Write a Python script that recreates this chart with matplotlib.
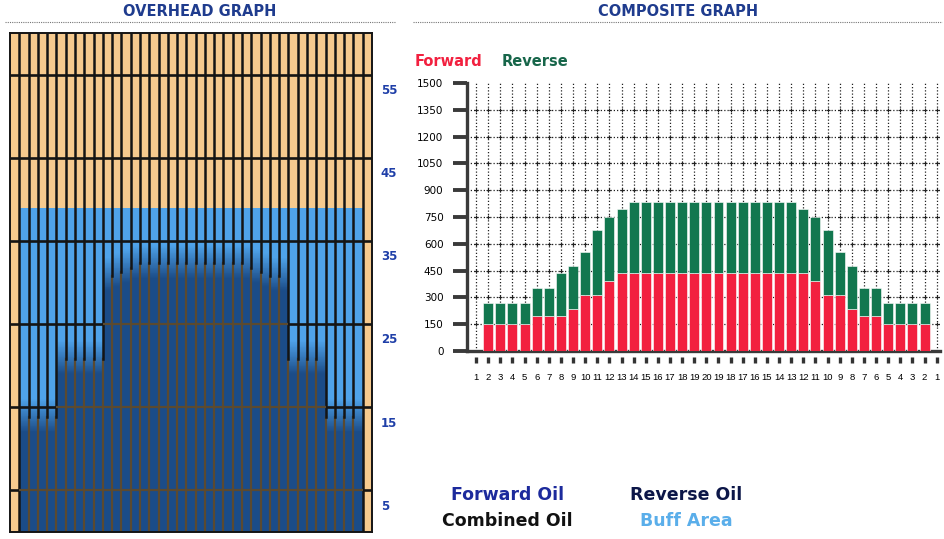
import numpy as np
import matplotlib.pyplot as plt
from matplotlib.colors import to_rgb
from matplotlib.lines import Line2D


# Composite graph (oil volume per board)
X_LABELS = ['1', '2', '3', '4', '5', '6', '7', '8', '9', '10', '11', '12', '13',
            '14', '15', '16', '17', '18', '19', '20', '19', '18', '17', '16', '15',
            '14', '13', '12', '11', '10', '9', '8', '7', '6', '5', '4', '3', '2', '1']
FORWARD = [150, 150, 150, 150, 195, 195, 195, 235, 315, 315, 390, 435,
           435, 435, 435, 435, 435, 435, 435, 435, 435, 435, 435, 435, 435, 435,
           435, 390, 315, 315, 235, 195, 195, 150, 150, 150, 150]
REVERSE = [120, 120, 120, 120, 160, 160, 240, 240, 240, 360, 360, 360,
           398, 398, 398, 398, 398, 398, 398, 398, 398, 398, 398, 398, 398, 398,
           360, 360, 360, 240, 240, 160, 160, 120, 120, 120, 120]
Y_TICKS = [0, 150, 300, 450, 600, 750, 900, 1050, 1200, 1350, 1500]

# Overhead graph (oil / buff length in feet per board, boards 1..39)
BOARD_OIL_FT = [0, 15, 15, 15, 15, 22, 22, 22, 22, 22,
                32, 32.5, 33, 33.5, 33.5, 33.5, 33.5, 33.5, 33.5, 33.5,
                33.5, 33.5, 33.5, 33.5, 33.5, 33.5, 33, 32.5, 32, 32,
                22, 22, 22, 22, 15, 15, 15, 15, 0]
BOARD_BUFF_FT = [0] + [39] * 37 + [0]
FEET_LINES = [5, 15, 25, 35, 45, 55]
FEET_LABELS = ['5', '15', '25', '35', '45', '55']

TAN = '#f6ca8e'
BUFF_BLUE = '#4fa3ea'
OIL_BLUE = '#1b4c88'
LINE_DARK = '#141414'
LINE_OIL = '#5b4a30'
RED = '#f2203f'
GREEN = '#12774f'
TITLE_BLUE = '#1f3c8e'

W, H = 945, 539


def fx(px):
    return px / W


def fy(py):
    return 1 - py / H


def overhead_image(oil, buff, top=60.0, rows=600):
    y = (np.arange(rows) + 0.5) * top / rows
    tan = np.array(to_rgb(TAN))
    light = np.array(to_rgb(BUFF_BLUE))
    dark = np.array(to_rgb(OIL_BLUE))
    img = np.zeros((rows, len(oil), 3))
    for k, (L, B) in enumerate(zip(oil, buff)):
        # soft fade from oil to buffed lane at the end of the pattern
        t = np.clip((L + 1.0 - y) / 4.0, 0, 1)[:, None]
        col = light[None, :] * (1 - t) + dark[None, :] * t
        col[y > B] = tan
        img[:, k] = col
    return img


def draw_overhead(fig):
    ax = fig.add_axes([fx(10), fy(532), fx(362), 499 / H])
    n = len(BOARD_OIL_FT)
    ax.imshow(overhead_image(BOARD_OIL_FT, BOARD_BUFF_FT), origin='lower',
              extent=(0, n, 0, 60), aspect='auto', interpolation='nearest')

    # board separators: brownish where both neighbours are oiled
    for j in range(1, n):
        wet = min(BOARD_OIL_FT[j - 1], BOARD_OIL_FT[j]) - 1.2
        if wet > 0:
            ax.plot([j, j], [0, wet], color=LINE_OIL, lw=1.6, zorder=2)
        ax.plot([j, j], [max(wet, 0), 60], color=LINE_DARK, lw=1.8, zorder=2)

    for f in FEET_LINES:
        for k in range(n):
            wet = BOARD_OIL_FT[k] - 1.2 > f
            ax.plot([k, k + 1], [f, f], color=LINE_OIL if wet else LINE_DARK,
                    lw=1.6 if wet else 1.9, zorder=3, solid_capstyle='butt')

    for f, lab in zip(FEET_LINES, FEET_LABELS):
        ax.text(n + 0.95, f - 1.9, lab, color='#1f3fa8', fontsize=8.5,
                fontweight='bold', ha='left', va='center', clip_on=False)

    ax.set_xlim(0, n)
    ax.set_ylim(0, 60)
    ax.set_xticks([])
    ax.set_yticks([])
    for s in ax.spines.values():
        s.set_color(LINE_DARK)
        s.set_linewidth(1.4)


def draw_composite(fig):
    ax = fig.add_axes([fx(467), fy(351), fx(473.3), 268 / H])
    pos = np.arange(1, len(FORWARD) + 1)
    n_ticks = len(X_LABELS)

    # dotted grid with little crosses where lines meet
    for y in Y_TICKS[1:-1]:
        ax.axhline(y, color='#222222', lw=0.9, ls=(0, (1, 1.6)), zorder=1)
    for x in range(n_ticks):
        ax.axvline(x, color='#222222', lw=0.9, ls=(0, (1, 1.6)), zorder=1)
    gx, gy = np.meshgrid(np.arange(n_ticks), Y_TICKS[1:-1])
    ax.scatter(gx.ravel(), gy.ravel(), marker='+', s=10, lw=0.8,
               color='#222222', zorder=1)

    ax.bar(pos, FORWARD, width=0.82, color=RED, edgecolor='white',
           linewidth=0.4, zorder=3)
    ax.bar(pos, REVERSE, width=0.82, bottom=FORWARD, color=GREEN,
           edgecolor='white', linewidth=0.4, zorder=3)

    ax.set_xlim(-0.75, 38.3)
    ax.set_ylim(0, 1500)
    ax.set_yticks(Y_TICKS)
    ax.set_yticklabels([str(v) for v in Y_TICKS])
    ax.set_xticks(range(n_ticks))
    ax.set_xticklabels(X_LABELS, family='Liberation Sans')
    ax.tick_params(axis='y', length=10, width=2.8, color='#3a3a3a',
                   labelsize=7.5, pad=7)
    ax.tick_params(axis='x', length=0, labelsize=6.8, pad=16)
    ax.plot(range(n_ticks), [-0.033] * n_ticks,
            transform=ax.get_xaxis_transform(), ls='none', marker='|',
            ms=5, mew=2.4, color='#333333', clip_on=False)

    for side in ['top', 'right']:
        ax.spines[side].set_visible(False)
    for side in ['left', 'bottom']:
        ax.spines[side].set_color('#3a3a3a')
        ax.spines[side].set_linewidth(2.4)
    ax.patch.set_alpha(0)


def main():
    fig = plt.figure(figsize=(W / 100, H / 100), dpi=100)

    draw_overhead(fig)
    draw_composite(fig)

    fig.text(fx(200), fy(12), 'OVERHEAD GRAPH', color=TITLE_BLUE, fontsize=10.5,
             fontweight='bold', ha='center', va='center')
    fig.text(fx(678), fy(12), 'COMPOSITE GRAPH', color=TITLE_BLUE, fontsize=10.5,
             fontweight='bold', ha='center', va='center')
    for x0, x1 in [(5, 395), (413, 942)]:
        fig.add_artist(Line2D([fx(x0), fx(x1)], [fy(22), fy(22)], color='#777777',
                              lw=0.8, ls=(0, (1, 1))))

    fig.text(fx(415), fy(62), 'Forward', color=RED, fontsize=10.5,
             fontweight='bold', ha='left', va='center')
    fig.text(fx(502), fy(62), 'Reverse', color='#17664a', fontsize=10.5,
             fontweight='bold', ha='left', va='center')

    legend = [('Forward Oil', '#1c2a9c', 508, 495),
              ('Reverse Oil', '#0c1648', 686, 495),
              ('Combined Oil', '#111111', 507, 521),
              ('Buff Area', '#5aaeea', 686, 521)]
    for text, color, x, y in legend:
        fig.text(fx(x), fy(y), text, color=color, fontsize=12.5,
                 fontweight='bold', ha='center', va='center')

    fig.savefig('out.png', dpi=100)
    plt.close(fig)


if __name__ == '__main__':
    main()
